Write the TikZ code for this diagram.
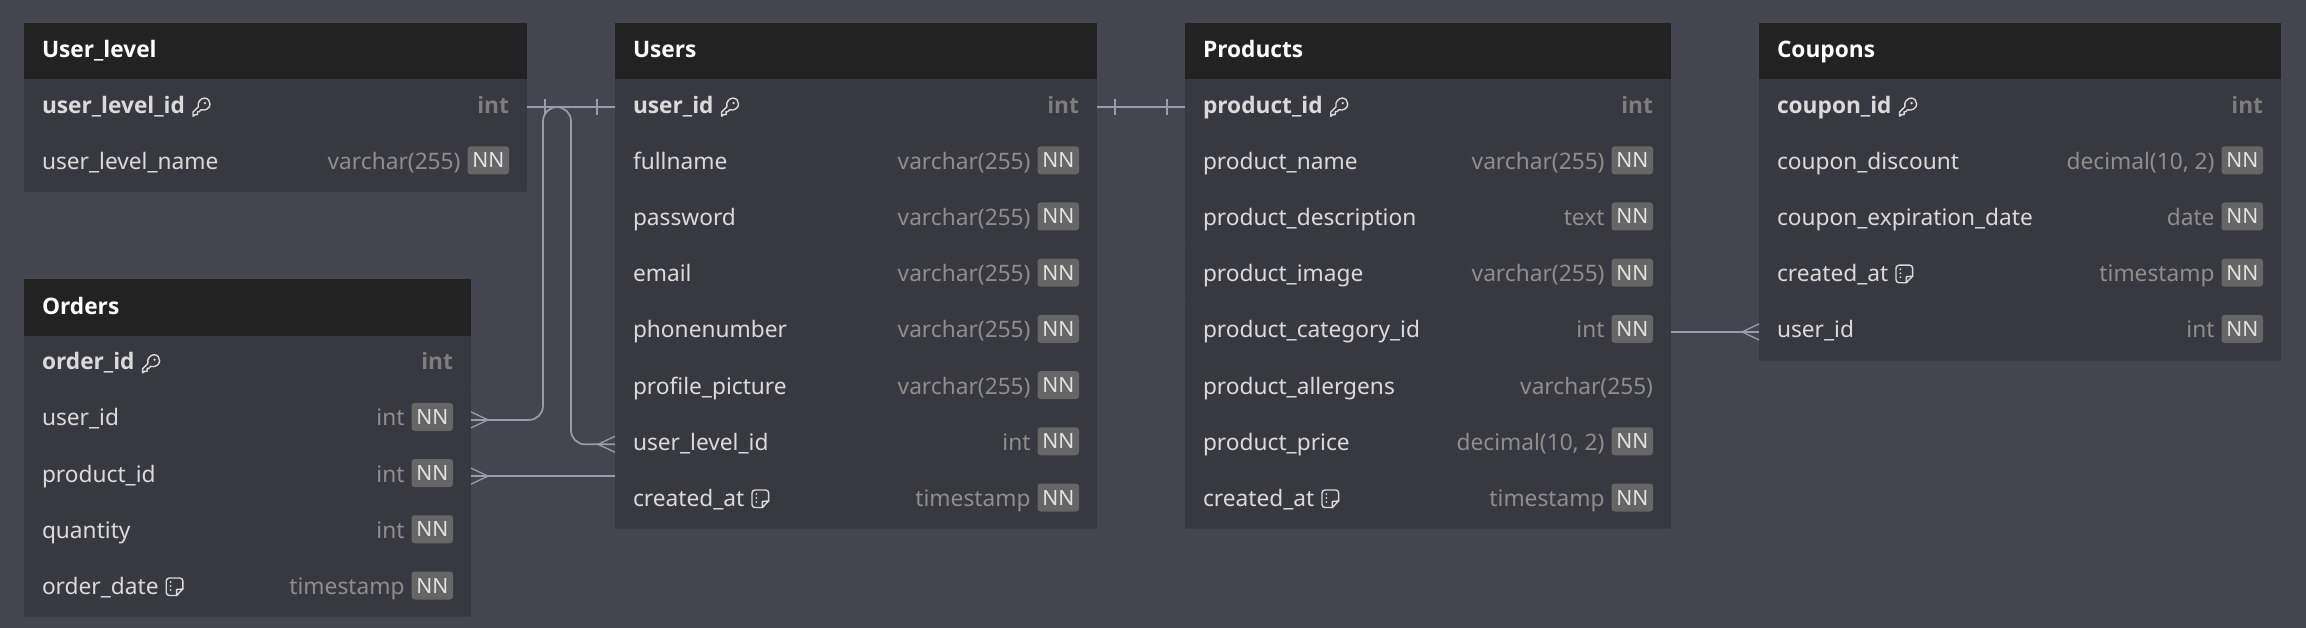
\documentclass[tikz,border=0pt]{standalone}
\usepackage{fontspec}
\setmainfont{Noto Sans}
\newfontfamily\boldfam{Open Sans}
\definecolor{pagebg}{HTML}{44454E}
\definecolor{headbg}{HTML}{222222}
\definecolor{rowbg}{HTML}{383840}
\definecolor{rowline}{HTML}{3B3B43}
\definecolor{namecol}{HTML}{DADADA}
\definecolor{typecol}{HTML}{8E8E8E}
\definecolor{nnbg}{HTML}{666666}
\definecolor{nncol}{HTML}{E2E2E2}
\definecolor{linkcol}{HTML}{9C9CA8}
\newcommand{\bodysize}{\fontsize{22.7}{28}\selectfont}
\tikzset{
  x=1pt,y=-1pt,
  headbox/.style={fill=headbg,inner sep=0,outer sep=0,minimum height=56.3pt,anchor=north west},
  rowbox/.style={fill=rowbg,inner sep=0,outer sep=0,minimum height=56.2pt},
  headtext/.style={text=white,inner sep=0,outer sep=0,anchor=base west,font=\bodysize\boldfam\bfseries},
  nametext/.style={text=namecol,inner sep=0,outer sep=0,anchor=base west,font=\bodysize},
  pkname/.style={nametext,font=\bodysize\boldfam\bfseries},
  typetext/.style={text=typecol,inner sep=0,outer sep=0,anchor=base east,font=\bodysize},
  pktype/.style={typetext,text=typecol!115,font=\bodysize\boldfam\bfseries},
  nnbadge/.style={fill=nnbg,rounded corners=3pt,text=nncol,inner sep=0,outer sep=0,
    minimum width=41.5pt,minimum height=28pt,anchor=east,font=\fontsize{21}{24}\selectfont},
  link/.style={draw=linkcol,line width=1.7pt,rounded corners=14pt},
  tickline/.style={draw=linkcol,line width=1.3pt},
  iconline/.style={draw=namecol,line width=1.4pt,line join=round,line cap=round}
}
% header: id, x, y, width, title
\newcommand{\ertitle}[5]{%
  \node[headbox,minimum width=#4] (#1) at (#2,#3) {};
  \node[headtext] (#1-t) at ([xshift=18pt,yshift=-6.8pt]#1.west) {#5};
}
% plain row: id, above, width, name, type
\newcommand{\errow}[5]{%
  \node[rowbox,minimum width=#3,anchor=north west] (#1) at (#2.south west) {};
  \draw[rowline,line width=1pt] (#1.south west) -- (#1.south east);
  \node[nametext] (#1-n) at ([xshift=18pt,yshift=-6pt]#1.west) {#4};
  \node[nnbadge] (#1-b) at ([xshift=-18pt,yshift=3pt]#1.east) {NN};
  \node[typetext] (#1-y) at ([xshift=-66.5pt,yshift=-6pt]#1.east) {#5};
}
\newcommand{\errowfree}[5]{%
  \node[rowbox,minimum width=#3,anchor=north west] (#1) at (#2.south west) {};
  \draw[rowline,line width=1pt] (#1.south west) -- (#1.south east);
  \node[nametext] (#1-n) at ([xshift=18pt,yshift=-6pt]#1.west) {#4};
  \node[typetext] (#1-y) at ([xshift=-18pt,yshift=-6pt]#1.east) {#5};
}
\newcommand{\erpk}[5]{%
  \node[rowbox,minimum width=#3,anchor=north west] (#1) at (#2.south west) {};
  \draw[rowline,line width=1pt] (#1.south west) -- (#1.south east);
  \node[pkname] (#1-n) at ([xshift=18pt,yshift=-6pt]#1.west) {#4};
  \node[pktype] (#1-y) at ([xshift=-18pt,yshift=-6pt]#1.east) {#5};
  \keyicon{#1-n}
}
% key icon just after a name
\newcommand{\keyicon}[1]{%
  \begin{scope}[shift={([xshift=7pt,yshift=-3pt]#1.base east)},x=1pt,y=-1pt]
    \draw[iconline] (1,-4) -- (6.3,-9.3)
      .. controls (5,-14) and (9,-18) .. (12.5,-18)
      .. controls (16,-18) and (18,-15) .. (18,-12)
      .. controls (18,-8) and (13.5,-5) .. (9,-6.3)
      -- (7,-4.3) -- (5.5,-4.3) -- (5.5,-1.5) -- (3,-1.5) -- (1.5,0) -- (1,0) -- cycle;
    \fill[namecol] (13,-13) circle (1.3pt);
  \end{scope}
}
% note icon just after a name
\newcommand{\noteicon}[1]{%
  \begin{scope}[shift={([xshift=7pt,yshift=-1pt]#1.base east)},x=1pt,y=-1pt]
    \draw[iconline,rounded corners=3pt] (17.3,-6.5) -- (17.3,-17.5) -- (0.7,-17.5) -- (0.7,0) -- (11,0);
    \draw[iconline] (17.3,-6.5) -- (11,0) -- (11,-6) -- (17.3,-6.5);
    \fill[namecol] (5,-13.5) circle (1pt) (5,-9.5) circle (1pt) (5,-5.5) circle (1pt);
  \end{scope}
}
\begin{document}
\begin{tikzpicture}
\useasboundingbox[fill=pagebg] (0,0) rectangle (2306,628);

% ---- User_level
\ertitle{ul}{24}{22.7}{503pt}{User\_level}
\erpk{ul1}{ul}{503pt}{user\_level\_id}{int}
\errow{ul2}{ul1}{503pt}{user\_level\_name}{varchar(255)}

% ---- Orders
\ertitle{o}{24}{279.3}{447pt}{Orders}
\erpk{o1}{o}{447pt}{order\_id}{int}
\errow{o2}{o1}{447pt}{user\_id}{int}
\errow{o3}{o2}{447pt}{product\_id}{int}
\errow{o4}{o3}{447pt}{quantity}{int}
\errow{o5}{o4}{447pt}{order\_date}{timestamp}
\noteicon{o5-n}

% ---- Users
\ertitle{u}{615}{22.7}{482pt}{Users}
\erpk{u1}{u}{482pt}{user\_id}{int}
\errow{u2}{u1}{482pt}{fullname}{varchar(255)}
\errow{u3}{u2}{482pt}{password}{varchar(255)}
\errow{u4}{u3}{482pt}{email}{varchar(255)}
\errow{u5}{u4}{482pt}{phonenumber}{varchar(255)}
\errow{u6}{u5}{482pt}{profile\_picture}{varchar(255)}
\errow{u7}{u6}{482pt}{user\_level\_id}{int}
\errow{u8}{u7}{482pt}{created\_at}{timestamp}
\noteicon{u8-n}

% ---- Products
\ertitle{p}{1185}{22.7}{486pt}{Products}
\erpk{p1}{p}{486pt}{product\_id}{int}
\errow{p2}{p1}{486pt}{product\_name}{varchar(255)}
\errow{p3}{p2}{486pt}{product\_description}{text}
\errow{p4}{p3}{486pt}{product\_image}{varchar(255)}
\errow{p5}{p4}{486pt}{product\_category\_id}{int}
\errowfree{p6}{p5}{486pt}{product\_allergens}{varchar(255)}
\errow{p7}{p6}{486pt}{product\_price}{decimal(10, 2)}
\errow{p8}{p7}{486pt}{created\_at}{timestamp}
\noteicon{p8-n}

% ---- Coupons
\ertitle{c}{1759}{22.7}{522pt}{Coupons}
\erpk{c1}{c}{522pt}{coupon\_id}{int}
\errow{c2}{c1}{522pt}{coupon\_discount}{decimal(10, 2)}
\errow{c3}{c2}{522pt}{coupon\_expiration\_date}{date}
\errow{c4}{c3}{522pt}{created\_at}{timestamp}
\noteicon{c4-n}
\errow{c5}{c4}{522pt}{user\_id}{int}

% ---- connectors
\coordinate (busa) at (543,0);
\coordinate (busb) at (571,0);
\draw[link] (o2.east) -- (o2.east -| busa) -- (busa |- u1.west) -- (u1.west);
\draw[link] (ul1.east) -- (busb |- ul1.east) -- (busb |- u7.west) -- (u7.west);
\coordinate (o3end) at (o3.east -| u8.west);
\draw[link] (o3.east) -- (o3end);
\draw[link] (u1.east) -- (p1.west);
\draw[link] (p5.east) -- (c5.west);

% one-side ticks
\draw[tickline] ([xshift=18pt,yshift=-8pt]ul1.east) -- ([xshift=18pt,yshift=8pt]ul1.east);
\draw[tickline] ([xshift=-18pt,yshift=-8pt]u1.west) -- ([xshift=-18pt,yshift=8pt]u1.west);
\draw[tickline] ([xshift=18pt,yshift=-8pt]u1.east) -- ([xshift=18pt,yshift=8pt]u1.east);
\draw[tickline] ([xshift=-18pt,yshift=-8pt]p1.west) -- ([xshift=-18pt,yshift=8pt]p1.west);

% many-side crow feet
\draw[tickline] ([yshift=8pt]o2.east) -- ([xshift=17pt]o2.east) -- ([yshift=-8pt]o2.east);
\draw[tickline] ([yshift=8pt]o3.east) -- ([xshift=17pt]o3.east) -- ([yshift=-8pt]o3.east);
\draw[tickline] ([yshift=8pt]u7.west) -- ([xshift=-17pt]u7.west) -- ([yshift=-8pt]u7.west);
\draw[tickline] ([yshift=8pt]c5.west) -- ([xshift=-17pt]c5.west) -- ([yshift=-8pt]c5.west);
\end{tikzpicture}
\end{document}
